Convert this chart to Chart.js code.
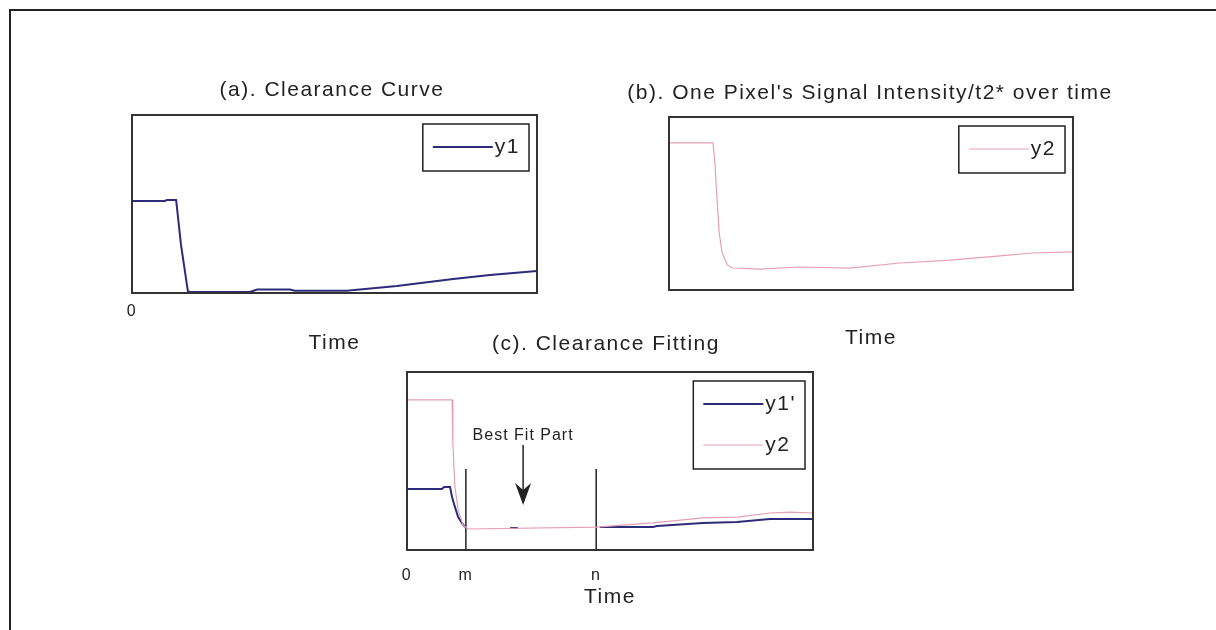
<!DOCTYPE html>
<html>
<head>
<meta charset="utf-8">
<title>Clearance curve fitting</title>
<script src="https://cdn.jsdelivr.net/npm/chart.js@4.4.1/dist/chart.umd.min.js"></script>
<style>
  html, body { margin: 0; padding: 0; background: #fff; }
  #page { position: relative; width: 1216px; height: 630px; overflow: hidden; }
  #frame { position: absolute; left: 9px; top: 9px; width: 1300px; height: 700px;
           border-left: 2px solid #222; border-top: 2px solid #222; }
  canvas { position: absolute; }
</style>
</head>
<body>
<div id="page">
  <div id="frame"></div>
  <canvas id="chartA" width="484" height="295" style="left:90px;top:60px"></canvas>
  <canvas id="chartB" width="540" height="290" style="left:600px;top:60px"></canvas>
  <canvas id="chartC" width="492" height="299" style="left:360px;top:310px"></canvas>
</div>
<script>
// time runs 0..100 across every panel, signal is 0..1 of the panel height

// (a) clearance curve
const timeA = [0, 8.1, 8.6, 10.9, 12.1, 13.8, 14.3, 29.1, 30.9, 39, 40.2, 53, 65.4, 79.3, 88.4, 100];
const y1    = [0.517, 0.517, 0.522, 0.522, 0.27, 0.01, 0.006, 0.006, 0.02, 0.02, 0.013, 0.013, 0.039, 0.079, 0.101, 0.124];

// (b) one pixel's signal intensity
const timeB = [0, 10.9, 11.4, 11.9, 12.4, 13.1, 14.4, 15.8, 22.5, 32.4, 44.8, 57.2, 69.6, 81.9, 90.1, 100];
const y2    = [0.85, 0.85, 0.723, 0.52, 0.335, 0.22, 0.145, 0.127, 0.121, 0.133, 0.127, 0.156, 0.173, 0.197, 0.214, 0.22];

// (c) fitted clearance against the signal
const timeC1 = [0, 8.6, 9.1, 10.6, 11.1, 11.8, 12.6, 13.5, 14.3, 20, 25.4, 27.3, 35, 47.5, 60.6, 61.6, 72.9, 81.3, 89.4, 100];
const y1fit  = [0.343, 0.343, 0.354, 0.354, 0.298, 0.242, 0.185, 0.152, 0.129, null, 0.124, 0.124, null, 0.129, 0.129, 0.135, 0.152, 0.157, 0.174, 0.174];
const timeC2 = [0, 11.1, 11.3, 11.8, 12.6, 13.8, 15.0, 46.6, 60.6, 72.9, 81.3, 89.4, 94.3, 100];
const y2fit  = [0.843, 0.843, 0.601, 0.354, 0.225, 0.14, 0.118, 0.129, 0.152, 0.18, 0.185, 0.208, 0.213, 0.208];

// fit window bounds and the arrow pointing into it
const mTime = 14.5, nTime = 46.6, markTop = 0.455;
const arrowAt = 28.6, arrowFrom = 0.59, arrowTo = 0.253;

const ticksA = [0], tickTextA = ['0'];
const ticksC = [0, mTime, nTime], tickTextC = ['0', 'm', 'n'];

const ink = '#222';
const blue = '#2c2c7a';
const pink = '#e6a0b3';
const FONT = "'Liberation Sans', Arial, sans-serif";

Chart.defaults.font.family = FONT;
Chart.defaults.color = ink;

const pts = (xs, ys) => xs.map((x, i) => ({ x, y: ys[i] }));

// wide letter spacing for all the text
const spacing = {
  id: 'spacing',
  beforeLayout(chart) { chart.ctx.letterSpacing = '1.5px'; },
  beforeDraw(chart) { chart.ctx.letterSpacing = '1.5px'; }
};

// box around the plot area
const frameBox = {
  id: 'frameBox',
  afterDatasetsDraw(chart) {
    const { ctx, chartArea: a } = chart;
    ctx.save();
    ctx.strokeStyle = '#333';
    ctx.lineWidth = 2;
    ctx.strokeRect(a.left, a.top, a.right - a.left, a.bottom - a.top);
    ctx.restore();
  }
};

// "Best Fit Part" arrow
const fitArrow = {
  id: 'fitArrow',
  afterDatasetsDraw(chart, args, opts) {
    if (!opts.text) return;
    const { ctx, scales: { x, y } } = chart;
    const px = x.getPixelForValue(opts.at);
    const yTop = y.getPixelForValue(opts.from);
    const yTip = y.getPixelForValue(opts.to);
    ctx.save();
    ctx.strokeStyle = ink;
    ctx.fillStyle = ink;
    ctx.lineWidth = 1.5;
    ctx.beginPath();
    ctx.moveTo(px, yTop);
    ctx.lineTo(px, yTip - 12);
    ctx.stroke();
    ctx.beginPath();
    ctx.moveTo(px, yTip);
    ctx.lineTo(px - 8, yTip - 22);
    ctx.lineTo(px, yTip - 15);
    ctx.lineTo(px + 8, yTip - 22);
    ctx.closePath();
    ctx.fill();
    ctx.letterSpacing = '1px';
    ctx.font = '16px ' + FONT;
    ctx.textAlign = 'center';
    ctx.textBaseline = 'middle';
    ctx.fillText(opts.text, px, yTop - 9);
    ctx.restore();
  }
};

// legend box in the top right corner of the plot
const keyBox = {
  id: 'keyBox',
  afterDraw(chart) {
    const { ctx, chartArea: a } = chart;
    const sets = chart.data.datasets.filter(d => d.inKey);
    ctx.save();
    ctx.font = '21px ' + FONT;
    const textW = Math.max(...sets.map(d => ctx.measureText(d.label).width));
    const w = 10 + 60 + 2 + textW + 9;
    const h = 6 + 41 * sets.length;
    const x0 = a.right - 8 - w, y0 = a.top + 9;
    ctx.fillStyle = '#fff';
    ctx.fillRect(x0, y0, w, h);
    ctx.strokeStyle = ink;
    ctx.lineWidth = 1.5;
    ctx.strokeRect(x0, y0, w, h);
    sets.forEach((d, i) => {
      const cy = y0 + 23 + i * 41;
      ctx.strokeStyle = d.borderColor;
      ctx.lineWidth = d.borderWidth;
      ctx.beginPath();
      ctx.moveTo(x0 + 10, cy);
      ctx.lineTo(x0 + 70, cy);
      ctx.stroke();
      ctx.fillStyle = ink;
      ctx.textAlign = 'left';
      ctx.textBaseline = 'middle';
      ctx.fillText(d.label, x0 + 72, cy);
    });
    ctx.restore();
  }
};

const hiddenSide = w => ({
  min: 0, max: 1, display: true,
  ticks: { display: false },
  grid: { display: false, drawTicks: false },
  border: { display: false },
  afterFit: s => { s.width = w; }
});

function panel(id, cfg) {
  const ticks = cfg.ticks || [];
  const tickText = cfg.tickText || [];
  const y = hiddenSide(cfg.side[0]);
  const right = Object.assign(hiddenSide(cfg.side[1]), { position: 'right' });
  return new Chart(document.getElementById(id), {
    type: 'line',
    data: { datasets: cfg.datasets },
    options: {
      responsive: false,
      animation: false,
      devicePixelRatio: 1,
      events: [],
      layout: { padding: 0 },
      elements: { point: { radius: 0 }, line: { tension: 0 } },
      plugins: {
        legend: { display: false },
        tooltip: { enabled: false },
        title: {
          display: true, text: cfg.title, color: ink,
          font: { size: 21, weight: 'normal', lineHeight: '24px' },
          padding: cfg.titlePad
        },
        fitArrow: cfg.arrow || {}
      },
      scales: {
        x: {
          type: 'linear', min: 0, max: 100,
          grid: { display: false, drawTicks: false },
          border: { display: false },
          afterBuildTicks: s => { if (ticks.length) s.ticks = ticks.map(v => ({ value: v })); },
          ticks: {
            display: ticks.length > 0, autoSkip: false, maxRotation: 0, minRotation: 0,
            padding: cfg.tickPad || 0, color: ink,
            font: { size: 16, lineHeight: '13.5px' },
            callback: v => { const i = ticks.indexOf(v); return i < 0 ? '' : tickText[i]; }
          },
          title: {
            display: true, text: 'Time', color: ink,
            font: { size: 21, lineHeight: '24px' },
            padding: { top: cfg.timePad, bottom: 0 }
          }
        },
        y,
        right
      }
    },
    plugins: [spacing, frameBox, fitArrow, keyBox]
  });
}

panel('chartA', {
  title: '(a). Clearance Curve',
  titlePad: { top: 18, bottom: 13 },
  side: [42, 37],
  ticks: ticksA, tickText: tickTextA, tickPad: 12, timePad: 0.5,
  datasets: [
    { label: 'y1', data: pts(timeA, y1), borderColor: blue, borderWidth: 2, inKey: true }
  ]
});

panel('chartB', {
  title: "(b). One Pixel's Signal Intensity/t2* over time",
  titlePad: { top: 21, bottom: 12 },
  side: [69, 67],
  timePad: 36,
  datasets: [
    { label: 'y2', data: pts(timeB, y2), borderColor: pink, borderWidth: 1.2, inKey: true }
  ]
});

panel('chartC', {
  title: '(c). Clearance Fitting',
  titlePad: { top: 22, bottom: 16 },
  side: [47, 39],
  ticks: ticksC, tickText: tickTextC, tickPad: 19, timePad: -16.5,
  arrow: { at: arrowAt, from: arrowFrom, to: arrowTo, text: 'Best Fit Part' },
  datasets: [
    { label: "y1'", data: pts(timeC1, y1fit), borderColor: blue, borderWidth: 2, inKey: true, spanGaps: false, order: 1 },
    { label: 'y2', data: pts(timeC2, y2fit), borderColor: pink, borderWidth: 1.2, inKey: true, order: 0 },
    { label: 'm', data: [{ x: mTime, y: 0 }, { x: mTime, y: markTop }], borderColor: ink, borderWidth: 1.5 },
    { label: 'n', data: [{ x: nTime, y: 0 }, { x: nTime, y: markTop }], borderColor: ink, borderWidth: 1.5 }
  ]
});
</script>
</body>
</html>
